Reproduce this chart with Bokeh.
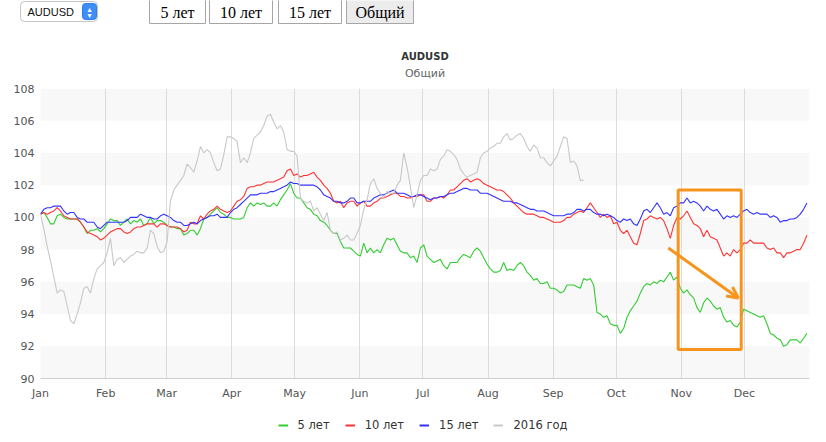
from bokeh.plotting import figure
from bokeh.layouts import column
from bokeh.models import (FixedTicker, Label, Legend, LegendItem, BoxAnnotation,
                          Arrow, OpenHead, Range1d)
from bokeh.embed import file_html
from bokeh.resources import INLINE

# ---------------- data ----------------
STEP_DAYS = 1.586          # spacing of the readings along the year, in days
YEAR_END = 366

five_years = [
    100.2, 100.3, 100.0, 99.6, 99.6, 100.1, 100.2, 100.0, 99.9, 99.9,
    99.9, 99.9, 99.7, 99.4, 99.0, 99.2, 99.2, 99.3, 99.1, 99.3,
    99.6, 99.9, 99.8, 99.8, 99.5, 99.7, 99.9, 99.6, 99.8, 99.7,
    99.9, 99.5, 99.6, 100.0, 99.6, 99.8, 99.8, 99.7, 99.5, 99.4,
    99.4, 99.3, 99.3, 98.9, 99.0, 99.2, 99.2, 98.9, 99.3, 99.9,
    100.0, 100.2, 100.4, 100.6, 100.3, 100.2, 100.0, 100.0, 99.9, 99.9,
    99.9, 100.0, 100.6, 100.9, 100.7, 100.9, 100.8, 100.9, 100.7, 100.7,
    100.9, 100.7, 101.1, 101.4, 101.7, 102.1, 101.5, 101.2, 101.2, 100.9,
    100.6, 100.5, 100.2, 100.1, 99.8, 99.7, 99.5, 99.2, 99.0, 99.0,
    98.5, 98.1, 98.1, 98.1, 97.9, 97.7, 97.6, 98.4, 97.8, 98.1,
    97.8, 98.0, 97.8, 98.3, 98.7, 98.6, 98.7, 98.3, 97.9, 97.8,
    97.8, 97.5, 97.6, 97.2, 98.1, 98.3, 97.6, 97.4, 97.2, 97.3,
    97.4, 97.0, 96.8, 97.2, 97.2, 97.2, 97.5, 97.7, 97.6, 97.5,
    97.9, 98.1, 97.9, 97.5, 97.1, 96.8, 96.6, 96.6, 96.7, 97.2,
    96.7, 96.8, 96.7, 97.0, 97.2, 97.0, 96.6, 96.4, 96.1, 96.2,
    95.9, 95.9, 96.0, 95.6, 95.6, 95.5, 95.3, 95.4, 95.8, 95.8,
    95.8, 95.7, 95.6, 96.2, 96.1, 96.2, 95.8, 94.1, 94.0, 93.8,
    93.9, 93.4, 93.3, 93.3, 92.8, 93.1, 93.8, 94.2, 94.5, 94.8,
    95.3, 95.7, 95.9, 95.8, 96.0, 95.9, 96.1, 96.0, 96.3, 96.6,
    96.1, 96.3, 95.6, 95.3, 95.5, 95.2, 95.0, 94.4, 94.1, 94.7,
    95.0, 94.8, 94.5, 94.3, 94.4, 93.8, 93.5, 93.6, 93.3, 93.2,
    93.5, 94.3, 94.2, 94.1, 94.0, 93.9, 93.8, 93.9, 93.4, 92.8,
    92.7, 92.5, 92.4, 92.0, 92.1, 92.4, 92.4, 92.4, 92.2, 92.5, 92.8,
]

ten_years = [
    100.2, 100.3, 100.2, 100.3, 100.4, 100.6, 100.4, 100.1, 100.0, 99.9,
    99.9, 99.9, 99.7, 99.4, 99.1, 99.0, 98.9, 98.8, 98.6, 98.7,
    98.9, 99.1, 99.2, 99.3, 99.3, 99.1, 99.0, 99.1, 99.3, 99.4,
    99.4, 99.5, 99.6, 99.6, 99.6, 99.4, 99.6, 99.6, 99.5, 99.4,
    99.4, 99.4, 99.3, 99.1, 99.2, 99.7, 99.6, 99.6, 100.1, 99.9,
    100.2, 100.4, 100.5, 100.7, 100.5, 100.4, 100.3, 100.4, 100.7, 101.0,
    101.1, 101.3, 101.8, 101.9, 101.9, 102.0, 102.0, 102.1, 102.2, 102.2,
    102.2, 102.3, 102.4, 102.5, 102.9, 103.0, 102.6, 102.7, 102.5, 102.6,
    102.6, 102.7, 102.8, 102.5, 102.3, 102.0, 101.8, 101.5, 101.0, 100.9,
    101.0, 100.6, 100.9, 101.0, 101.0, 100.7, 100.9, 101.0, 100.7, 100.7,
    100.9, 101.0, 101.2, 101.2, 101.3, 101.4, 101.5, 101.5, 101.3, 101.3,
    101.2, 101.2, 101.3, 101.3, 101.4, 101.4, 101.0, 101.0, 101.2, 101.2,
    101.3, 101.2, 101.4, 101.7, 101.7, 101.9, 102.1, 102.3, 102.4, 102.2,
    102.3, 102.4, 102.3, 102.1, 102.0, 101.9, 101.8, 101.7, 101.7, 101.6,
    101.4, 101.2, 100.9, 100.7, 100.5, 100.3, 100.2, 100.2, 100.2, 100.1,
    100.0, 100.0, 99.9, 99.8, 99.7, 99.7, 99.7, 99.8, 100.0, 100.0,
    100.2, 100.3, 100.4, 100.3, 100.6, 100.9, 100.6, 100.3, 100.0, 100.2,
    100.0, 100.1, 99.6, 99.7, 99.2, 99.0, 99.2, 98.8, 98.4, 98.3,
    99.0, 99.8, 99.9, 100.1, 100.0, 99.9, 100.0, 99.8, 99.3, 98.7,
    99.5, 100.0, 99.9, 100.1, 100.4, 100.0, 99.6, 99.5, 99.3, 98.8,
    99.2, 98.8, 98.7, 98.6, 98.1, 97.6, 97.8, 97.6, 98.0, 97.8,
    98.0, 98.4, 98.4, 98.6, 98.4, 98.4, 98.4, 98.4, 98.1, 98.0,
    98.1, 97.8, 97.8, 97.5, 97.8, 97.8, 97.9, 98.0, 98.0, 98.4, 98.9,
]

fifteen_years = [
    100.2, 100.5, 100.6, 100.6, 100.7, 100.7, 100.7, 100.4, 100.2, 100.3,
    100.3, 100.0, 99.9, 99.9, 99.7, 99.7, 99.7, 99.4, 99.3, 99.5,
    99.7, 99.7, 99.7, 99.7, 99.7, 99.7, 99.8, 100.0, 100.0, 100.0,
    100.2, 100.1, 100.0, 100.0, 99.9, 99.9, 100.1, 100.2, 100.1, 100.0,
    99.8, 99.7, 99.7, 99.5, 99.5, 99.6, 99.7, 99.6, 99.8, 99.9,
    100.0, 100.1, 100.1, 100.2, 100.0, 100.0, 100.0, 100.3, 100.5, 100.6,
    100.8, 101.0, 101.2, 101.4, 101.4, 101.4, 101.5, 101.5, 101.5, 101.6,
    101.6, 101.7, 101.8, 101.9, 102.0, 102.2, 102.1, 102.1, 102.0, 102.0,
    102.0, 102.0, 102.0, 101.9, 101.7, 101.4, 101.3, 101.2, 101.0, 101.0,
    100.9, 100.9, 101.0, 101.2, 101.2, 100.9, 100.9, 101.0, 101.0, 101.0,
    101.2, 101.3, 101.4, 101.4, 101.5, 101.6, 101.7, 101.5, 101.5, 101.5,
    101.4, 101.3, 101.3, 101.4, 101.4, 101.3, 101.2, 101.1, 101.2, 101.2,
    101.3, 101.3, 101.4, 101.5, 101.5, 101.6, 101.7, 101.8, 101.8, 101.7,
    101.7, 101.7, 101.5, 101.5, 101.5, 101.4, 101.3, 101.2, 101.1, 101.0,
    101.0, 101.0, 100.9, 100.9, 100.8, 100.7, 100.6, 100.5, 100.5, 100.4,
    100.4, 100.4, 100.3, 100.2, 100.1, 100.1, 100.1, 100.1, 100.2, 100.2,
    100.3, 100.5, 100.5, 100.4, 100.5, 100.5, 100.3, 100.2, 100.2, 100.1,
    100.2, 100.1, 100.0, 99.8, 99.7, 99.9, 99.8, 99.9, 99.6, 99.5,
    99.9, 100.4, 100.5, 100.3, 100.6, 100.9, 100.6, 100.2, 100.3, 100.1,
    100.6, 100.7, 100.9, 100.9, 101.2, 100.9, 101.0, 100.9, 100.7, 100.4,
    100.7, 100.5, 100.4, 100.5, 100.2, 99.9, 100.1, 100.0, 100.1, 100.0,
    100.2, 100.4, 100.5, 100.3, 100.2, 100.3, 100.2, 100.2, 100.2, 100.0,
    100.1, 100.0, 99.7, 99.8, 99.8, 99.9, 99.9, 100.0, 100.2, 100.5, 100.9,
]

year_2016 = [
    100.2, 99.3, 98.2, 97.3, 96.3, 95.3, 95.5, 95.4, 94.5, 93.6,
    93.4, 94.0, 94.7, 95.6, 95.7, 95.3, 96.2, 96.8, 97.0, 97.2,
    97.8, 98.7, 97.0, 97.4, 97.5, 97.2, 97.4, 97.6, 97.7, 97.9,
    97.8, 97.8, 98.1, 99.2, 99.0, 98.2, 97.8, 97.9, 98.5, 101.0,
    101.7, 102.0, 102.3, 102.6, 103.3, 103.1, 102.8, 103.5, 104.4, 104.0,
    104.2, 104.0, 103.4, 102.9, 103.0, 103.9, 105.0, 105.0, 104.9, 104.7,
    103.4, 103.7, 103.4, 104.0, 104.9, 105.1, 105.3, 105.7, 106.3, 106.4,
    105.9, 105.5, 105.7, 105.3, 104.2, 104.1, 104.1, 103.8, 101.2, 101.0,
    100.9, 101.0, 100.4, 100.6, 100.2, 99.8, 100.3, 99.2, 99.0, 99.1,
    98.6, 98.7, 98.9, 98.6, 98.6, 99.0, 99.5, 100.5, 101.1, 102.1,
    102.4, 101.8, 101.5, 101.2, 101.6, 101.5, 101.5, 102.0, 102.3, 104.0,
    103.1, 101.9, 100.6, 101.4, 102.3, 102.6, 102.6, 103.0, 102.9, 103.0,
    103.6, 103.8, 104.2, 104.1, 103.9, 103.6, 103.0, 102.7, 102.5, 102.6,
    102.7, 102.8, 103.7, 104.0, 104.1, 104.3, 104.4, 104.6, 104.6, 105.0,
    105.2, 104.8, 104.9, 105.1, 105.2, 104.9, 104.4, 104.1, 104.5, 104.3,
    103.7, 103.7, 103.4, 103.2, 103.5, 103.8, 104.4, 105.0, 104.9, 103.4,
    103.5, 103.2, 102.3, 102.3,
]

series_names = ["5 лет", "10 лет", "15 лет", "2016 год"]
series_colors = ["#33cc33", "#ff3333", "#3333ff", "#c8c8c8"]

month_starts = [0, 31, 60, 91, 121, 152, 182, 213, 244, 274, 305, 335]
month_names = ["Jan", "Feb", "Mar", "Apr", "May", "Jun",
               "Jul", "Aug", "Sep", "Oct", "Nov", "Dec"]
y_ticks = [90, 92, 94, 96, 98, 100, 102, 104, 106, 108]

chart_title = "AUDUSD"
chart_subtitle = "Общий"
select_value = "AUDUSD"
buttons = ["5 лет", "10 лет", "15 лет", "Общий"]

# hand-drawn highlight (days, value)
highlight_box = dict(left=303.5, right=333.5, bottom=91.8, top=101.7)
highlight_arrow = dict(x_start=298.8, y_start=98.1, x_end=332.1, y_end=95.0)

# ---------------- layout constants (pixels) ----------------
W = 826
TOP_H = 80            # header strip: selector, buttons, titles
FRAME_L, FRAME_R = 40, 809
FRAME_H = 290
MAIN_PAD_TOP, MAIN_PAD_BOTTOM = 8, 24
MAIN_H = MAIN_PAD_TOP + FRAME_H + MAIN_PAD_BOTTOM
LEG_H = 442 - TOP_H - MAIN_H
FONT = "DejaVu Sans"
ORANGE = "#f7941d"


def bare_figure(h, x_rng, y_rng, left=0, top=0):
    f = figure(width=W, height=h, x_range=x_rng, y_range=y_rng,
               x_axis_type=None, y_axis_type=None,
               output_backend="svg", toolbar_location=None,
               min_border=0, min_border_left=left, min_border_right=0,
               min_border_top=top, min_border_bottom=0)
    f.outline_line_color = None
    f.grid.visible = False
    f.frame_align = False
    return f


# ---------------- header (pixel coordinates, y downward) ----------------
top = bare_figure(TOP_H, Range1d(0, W), Range1d(TOP_H, 0))

# select box
top.add_layout(BoxAnnotation(left=20, right=97, top=1, bottom=21, fill_color="white",
                             fill_alpha=1, line_color="#c4c4c4", line_alpha=1,
                             border_radius=4))
top.add_layout(BoxAnnotation(left=82, right=96, top=3, bottom=19, fill_color="#3d8ef7",
                             fill_alpha=1, line_color="#2f7ee6", line_alpha=1,
                             border_radius=3))
top.add_layout(Label(x=27, y=11.5, text=select_value, text_align="left",
                     text_baseline="middle", text_font="Liberation Sans",
                     text_font_size="11px", text_color="#111111"))
top.add_layout(Label(x=89, y=8.5, text="▴", text_align="center", text_baseline="middle",
                     text_font=FONT, text_font_size="8px", text_color="white"))
top.add_layout(Label(x=89, y=14.5, text="▾", text_align="center", text_baseline="middle",
                     text_font=FONT, text_font_size="8px", text_color="white"))

# buttons
btn_left = [149, 209, 278, 346]
btn_right = [205, 272, 341, 413]
for i, (txt, l, r) in enumerate(zip(buttons, btn_left, btn_right)):
    top.add_layout(BoxAnnotation(left=l, right=r, top=-1, bottom=23,
                                 fill_color="#ececec" if i == 3 else "white",
                                 fill_alpha=1, line_color="#a6a6a6", line_alpha=1))
    top.add_layout(Label(x=(l + r) / 2, y=11.5, text=txt, text_align="center",
                         text_baseline="middle", text_font="Liberation Serif",
                         text_font_size="16px", text_color="#000000"))

# chart titles
top.add_layout(Label(x=(FRAME_L + FRAME_R) / 2, y=56, text=chart_title,
                     text_align="center", text_baseline="middle", text_font=FONT,
                     text_font_size="10px", text_font_style="bold",
                     text_color="#333333"))
top.add_layout(Label(x=(FRAME_L + FRAME_R) / 2, y=73, text=chart_subtitle,
                     text_align="center", text_baseline="middle", text_font=FONT,
                     text_font_size="11px", text_color="#666666"))

# ---------------- main chart ----------------
p = figure(width=W, height=MAIN_H,
           x_range=Range1d(0, YEAR_END), y_range=Range1d(y_ticks[0], y_ticks[-1]),
           output_backend="svg", toolbar_location=None,
           min_border_left=FRAME_L, min_border_right=W - FRAME_R,
           min_border_top=MAIN_PAD_TOP, min_border_bottom=MAIN_PAD_BOTTOM)
p.outline_line_color = None
p.frame_align = False

for b in y_ticks[:-1:2]:
    p.add_layout(BoxAnnotation(bottom=b, top=b + 2, fill_color="#f8f8f8", fill_alpha=1,
                               line_color=None, level="image"))

p.xaxis.ticker = FixedTicker(ticks=month_starts)
p.xaxis.major_label_overrides = {m: n for m, n in zip(month_starts, month_names)}
p.xaxis.major_tick_out = 0
p.xaxis.major_tick_in = 0
p.xaxis.minor_tick_out = 0
p.xaxis.minor_tick_in = 0
p.xaxis.axis_line_color = "#cfcfcf"
p.xaxis.major_label_standoff = 8
p.xaxis.major_label_text_font = FONT
p.xaxis.major_label_text_font_size = "11px"
p.xaxis.major_label_text_color = "#555555"

p.yaxis.ticker = FixedTicker(ticks=y_ticks)
p.yaxis.axis_line_color = None
p.yaxis.major_tick_out = 0
p.yaxis.major_tick_in = 0
p.yaxis.minor_tick_out = 0
p.yaxis.minor_tick_in = 0
p.yaxis.major_label_standoff = 6
p.yaxis.major_label_text_font = FONT
p.yaxis.major_label_text_font_size = "11px"
p.yaxis.major_label_text_color = "#555555"

p.xgrid.ticker = FixedTicker(ticks=month_starts + [YEAR_END])
p.xgrid.grid_line_color = "#dcdcdc"
p.ygrid.grid_line_color = None

all_series = [five_years, ten_years, fifteen_years, year_2016]
for name, color, vals in zip(series_names, series_colors, all_series):
    days = [i * STEP_DAYS for i in range(len(vals))]
    p.line(days, vals, line_color=color, line_width=1.1)

p.add_layout(BoxAnnotation(fill_alpha=0, line_color=ORANGE, line_alpha=1, line_width=3,
                           **highlight_box))
p.add_layout(Arrow(end=OpenHead(line_color=ORANGE, line_width=3, size=11),
                   line_color=ORANGE, line_width=3, **highlight_arrow))

# ---------------- legend strip ----------------
leg = bare_figure(LEG_H, Range1d(0, 1), Range1d(0, 1), left=19, top=6)
items = []
for name, color in zip(series_names, series_colors):
    # placeholder renderers (a single NaN point draws nothing) that carry the legend styling
    r = leg.line(x=[float("nan")], y=[float("nan")], line_color=color, line_width=2)
    items.append(LegendItem(label=name, renderers=[r]))
legend = Legend(items=items, orientation="horizontal", location="center",
                label_text_font=FONT, label_text_font_size="11.5px",
                label_text_color="#333333", glyph_width=10, glyph_height=12,
                label_standoff=10, spacing=15, padding=0, margin=0,
                border_line_color=None, background_fill_alpha=0)
leg.add_layout(legend, "center")

layout = column(top, p, leg, spacing=0)
open("out.html", "w").write(file_html(layout, INLINE))
